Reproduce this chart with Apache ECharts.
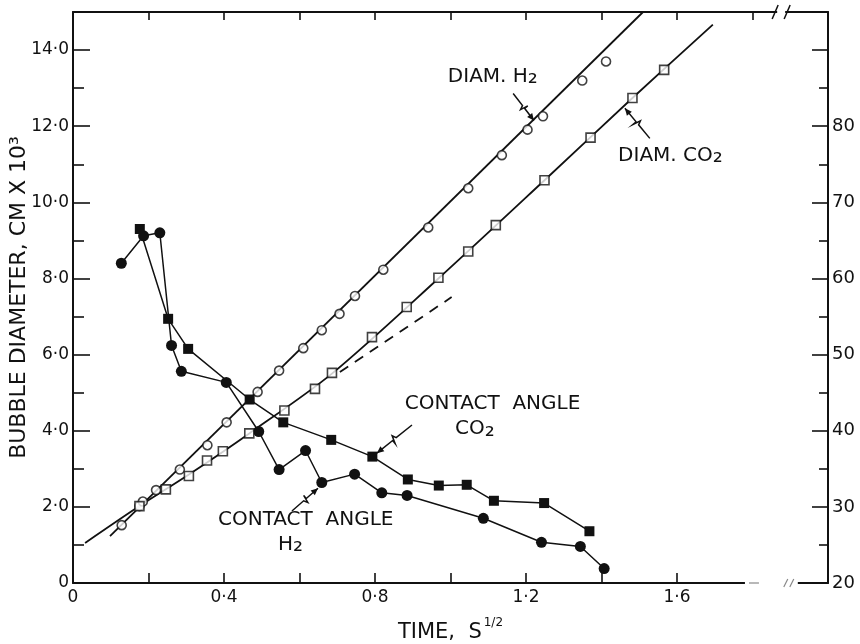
<!DOCTYPE html>
<html>
<head>
<meta charset="utf-8">
<script src="https://cdn.jsdelivr.net/npm/echarts@6/dist/echarts.min.js"></script>
<style>html,body{margin:0;padding:0;background:#fff}#c{width:860px;height:644px}</style>
</head>
<body>
<div id="c"></div>
<script>
// ---- data ----
// Bubble diameter (left axis, cm x 10^3) vs time (s^1/2)
const diamH2X = [0.129,0.176,0.185,0.220,0.283,0.356,0.407,0.489,0.546,0.610,0.659,0.706,0.747,0.822,0.941,1.047,1.136,1.204,1.245,1.349,1.412];
const diamH2Y = [1.52,2.02,2.14,2.44,2.98,3.62,4.22,5.02,5.58,6.17,6.64,7.07,7.54,8.23,9.34,10.37,11.24,11.91,12.26,13.20,13.70];
const diamCO2X = [0.176,0.246,0.307,0.355,0.397,0.467,0.560,0.641,0.686,0.792,0.884,0.968,1.047,1.120,1.249,1.371,1.482,1.566];
const diamCO2Y = [2.02,2.46,2.81,3.22,3.46,3.93,4.53,5.10,5.52,6.46,7.25,8.02,8.71,9.40,10.58,11.70,12.74,13.48];
// fitted curves drawn through the diameter points
const fitH2X = [0.098,1.51];
const fitH2Y = [1.23,15.0];
const fitCO2X = [0.032,0.176,0.307,0.467,0.686,0.968,1.249,1.482,1.695];
const fitCO2Y = [1.05,2.02,2.85,3.93,5.50,8.00,10.58,12.74,14.67];
const dashCO2X = [0.707,1.003];
const dashCO2Y = [5.54,7.51];
// Contact angle (right axis, degrees)
const caH2X = [0.128,0.187,0.230,0.261,0.287,0.406,0.492,0.546,0.616,0.659,0.746,0.818,0.885,1.087,1.241,1.344,1.407];
const caH2Y = [62.0,65.6,66.0,51.2,47.8,46.35,39.9,34.9,37.4,33.2,34.3,31.85,31.5,28.5,25.35,24.8,21.9];
const caCO2X = [0.177,0.252,0.305,0.468,0.557,0.684,0.793,0.887,0.969,1.043,1.115,1.248,1.368];
const caCO2Y = [66.5,54.7,50.75,44.1,41.1,38.8,36.6,33.6,32.8,32.9,30.8,30.5,26.8];
// tick labels
const xLabelValues = [0,0.4,0.8,1.2,1.6];
const xTickValues = [0,0.2,0.4,0.6,0.8,1.0,1.2,1.4,1.6];
const xTopTickValues = [0.2,0.4,0.6,0.8,1.0,1.2,1.4,1.6,1.8];
const leftLabels = ['0','2·0','4·0','6·0','8·0','10·0','12·0','14·0'];
const rightLabels = ['20','30','40','50','60','70','80'];

const zip = (a,b)=>a.map((v,i)=>[v,b[i]]);
const FONT = 'DejaVu Sans';
const K = '#111';

const chart = echarts.init(document.getElementById('c'), null, {renderer:'canvas'});
const fmtX = v => { const i = xLabelValues.findIndex(t=>Math.abs(t-v)<1e-6); return i<0?'':(i===0?'0':v.toFixed(1).replace('.','·')); };

chart.setOption({
  animation:false,
  backgroundColor:'#fff',
  grid:{left:73,right:32,top:12,bottom:61,containLabel:false,outerBoundsMode:'none'},
  xAxis:[{
    type:'value', min:0, max:2.0, interval:0.2, position:'bottom',
    axisLine:{show:true,onZero:false,lineStyle:{color:K,width:2}},
    axisTick:{show:true,inside:true,length:10,lineStyle:{color:K,width:1.6},customValues:xTickValues},
    axisLabel:{color:K,fontFamily:FONT,fontSize:17,margin:6,customValues:xLabelValues,formatter:fmtX},
    splitLine:{show:false},
    name:'{a|TIME,  S}{b|1/2}', nameLocation:'middle', nameGap:34,
    nameTextStyle:{rich:{a:{fontFamily:FONT,fontSize:21,color:K,lineHeight:26,verticalAlign:'bottom'},b:{fontFamily:FONT,fontSize:12,color:K,lineHeight:26,verticalAlign:'top',padding:[0,0,0,2]}}}
  },{
    type:'value', min:0, max:2.0, interval:0.2, position:'top',
    axisLine:{show:true,onZero:false,lineStyle:{color:K,width:2}},
    axisTick:{show:true,inside:true,length:8,lineStyle:{color:K,width:1.6},customValues:xTopTickValues},
    axisLabel:{show:false}, splitLine:{show:false}
  }],
  yAxis:[{
    type:'value', min:0, max:15, interval:2, position:'left',
    axisLine:{show:true,onZero:false,lineStyle:{color:K,width:2}},
    axisTick:{show:true,inside:true,length:17,lineStyle:{color:K,width:1.6}},
    minorTick:{show:true,splitNumber:2,length:11,lineStyle:{color:K,width:1.6}},
    axisLabel:{color:K,fontFamily:FONT,fontSize:17,margin:4,formatter:v=>{const i=Math.round(v/2);return (v<=14&&Math.abs(v-2*i)<1e-6)?leftLabels[i]:'';}},
    splitLine:{show:false},minorSplitLine:{show:false},
    name:'BUBBLE DIAMETER, CM X 10³', nameLocation:'middle', nameGap:43, nameMoveOverlap:false,
    nameTextStyle:{fontFamily:FONT,fontSize:22,color:K}
  },{
    type:'value', min:20, max:95, interval:10, position:'right',
    axisLine:{show:true,onZero:false,lineStyle:{color:K,width:2}},
    axisTick:{show:true,inside:true,length:16,lineStyle:{color:K,width:1.6}},
    minorTick:{show:true,splitNumber:2,length:9,lineStyle:{color:K,width:1.6}},
    axisLabel:{color:K,fontFamily:FONT,fontSize:18,margin:4,formatter:v=>{const i=Math.round((v-20)/10);return (Math.abs(v-20-10*i)<1e-6&&i>=0&&i<rightLabels.length)?rightLabels[i]:'';}},
    splitLine:{show:false},minorSplitLine:{show:false}
  }],
  series:[
    {name:'fitH2',type:'line',data:zip(fitH2X,fitH2Y),symbol:'none',lineStyle:{color:K,width:1.8},z:2},
    {name:'fitCO2',type:'line',data:zip(fitCO2X,fitCO2Y),symbol:'none',smooth:0.3,lineStyle:{color:K,width:1.8},z:2},
    {name:'dashCO2',type:'line',data:zip(dashCO2X,dashCO2Y),symbol:'none',lineStyle:{color:K,width:1.8,type:[10,8]},z:2},
    {name:'caH2',type:'line',yAxisIndex:1,data:zip(caH2X,caH2Y),symbol:'circle',symbolSize:11,itemStyle:{color:K},lineStyle:{color:K,width:1.5},z:3},
    {name:'caCO2',type:'line',yAxisIndex:1,data:zip(caCO2X,caCO2Y),symbol:'rect',symbolSize:10,itemStyle:{color:K},lineStyle:{color:K,width:1.5},z:3},
    {name:'diamH2',type:'scatter',data:zip(diamH2X,diamH2Y),symbol:'circle',symbolSize:9,itemStyle:{color:'#fff',borderColor:K,borderWidth:1.6},z:4},
    {name:'diamCO2',type:'scatter',data:zip(diamCO2X,diamCO2Y),symbol:'rect',symbolSize:9,itemStyle:{color:'#fff',borderColor:K,borderWidth:1.6},z:4}
  ]
});

// ---- annotations (anchored in data coordinates) ----
const P = (x,y)=>chart.convertToPixel({xAxisIndex:0,yAxisIndex:0},[x,y]);
const subRich = {
  a:{fontFamily:FONT,fontSize:20,fill:K,lineHeight:24},
  b:{fontFamily:FONT,fontSize:25,fill:K,lineHeight:24}
};
function label(x,y,text){
  const p=P(x,y);
  return {type:'text',x:p[0],y:p[1],z:10,style:{text:text,rich:subRich,fill:K,font:'20px '+FONT,align:'left',verticalAlign:'middle'}};
}
function arrow(a,b){
  const p0=P(a[0],a[1]), p1=P(b[0],b[1]);
  const dx=p1[0]-p0[0], dy=p1[1]-p0[1], L=Math.hypot(dx,dy), ux=dx/L, uy=dy/L, nx=-uy, ny=ux;
  const m1=[p0[0]+dx*0.45, p0[1]+dy*0.45], m2=[p0[0]+dx*0.55, p0[1]+dy*0.55];
  const pts=[p0,m1,[m1[0]+nx*4+ux*2,m1[1]+ny*4+uy*2],[m2[0]-nx*4,m2[1]-ny*4],m2,p1];
  const h=7,w=3.2;
  const base=[p1[0]-ux*h,p1[1]-uy*h];
  return [
    {type:'polyline',z:10,shape:{points:pts},style:{stroke:K,lineWidth:1.5,fill:null}},
    {type:'polygon',z:10,shape:{points:[p1,[base[0]+nx*w,base[1]+ny*w],[base[0]-nx*w,base[1]-ny*w]]},style:{fill:K}}
  ];
}
const g=[];
g.push(label(0.993,13.31,'{a|DIAM. H}{b|₂}'));
g.push(label(1.444,11.23,'{a|DIAM. CO}{b|₂}'));
g.push(label(0.879,4.70,'{a|CONTACT  ANGLE}'));
g.push(label(1.012,4.04,'{a|CO}{b|₂}'));
g.push(label(0.384,1.67,'{a|CONTACT  ANGLE}'));
g.push(label(0.543,1.00,'{a|H}{b|₂}'));
g.push(...arrow([1.166,12.86],[1.221,12.15]));
g.push(...arrow([1.528,11.68],[1.462,12.47]));
g.push(...arrow([0.898,4.15],[0.805,3.41]));
g.push(...arrow([0.580,1.89],[0.649,2.49]));
// axis break marks
const tb=P(1.86,15), bb=P(1.78,0), be=P(1.92,0);
g.push({type:'rect',z:20,shape:{x:tb[0]+2,y:tb[1]-3,width:8,height:6},style:{fill:'#fff'}});
g.push({type:'line',z:21,shape:{x1:tb[0]-3,y1:tb[1]+7,x2:tb[0]+3,y2:tb[1]-7},style:{stroke:K,lineWidth:1.5}});
g.push({type:'line',z:21,shape:{x1:tb[0]+9,y1:tb[1]+7,x2:tb[0]+15,y2:tb[1]-7},style:{stroke:K,lineWidth:1.5}});
g.push({type:'rect',z:20,shape:{x:bb[0],y:bb[1]-3,width:be[0]-bb[0],height:6},style:{fill:'#fff'}});
g.push({type:'line',z:21,shape:{x1:bb[0]+4,y1:bb[1],x2:bb[0]+14,y2:bb[1]},style:{stroke:'#888',lineWidth:1.2}});
g.push({type:'line',z:21,shape:{x1:be[0]-14,y1:bb[1]+4,x2:be[0]-10,y2:bb[1]-4},style:{stroke:'#888',lineWidth:1.2}});
g.push({type:'line',z:21,shape:{x1:be[0]-8,y1:bb[1]+4,x2:be[0]-4,y2:bb[1]-4},style:{stroke:'#888',lineWidth:1.2}});
chart.setOption({graphic:g});
</script>
</body>
</html>
